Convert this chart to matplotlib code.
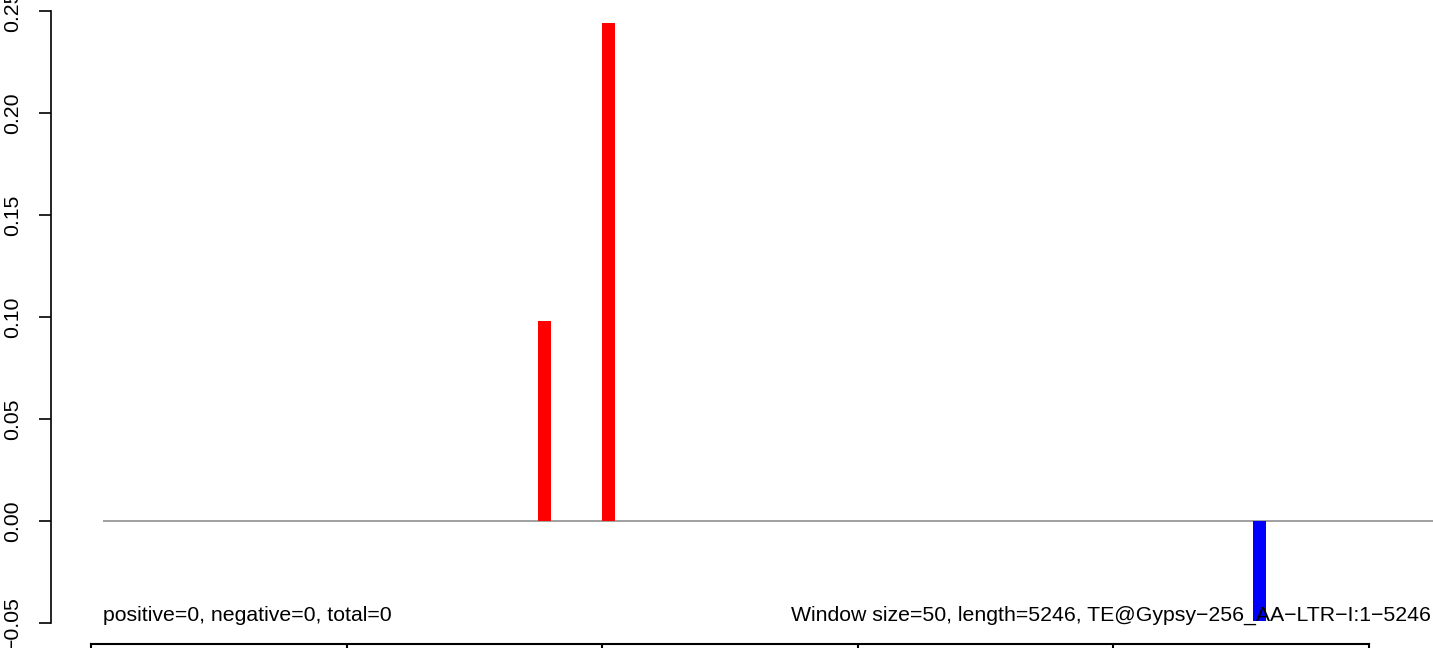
import matplotlib.pyplot as plt

plt.rcParams['font.family'] = ['Liberation Sans', 'DejaVu Sans']

# window positions (bp, window centre) and signal values
window_size = 50
seq_length = 5246
win_centers = [1725, 1975, 4517]
win_values = [0.098, 0.2441, -0.049]
bar_colors = ['#ff0000' if v > 0 else '#0000ff' for v in win_values]

y_ticks = [-0.05, 0.00, 0.05, 0.10, 0.15, 0.20, 0.25]
y_ticklabels = ['\u22120.05', '0.00', '0.05', '0.10', '0.15', '0.20', '0.25']

left_note = 'positive=0, negative=0, total=0'
right_note = ('Window size=50, length=5246, TE@Gypsy\u2212256_AA\u2212LTR\u2212I:1\u22125246')

# bottom panel segments (top edge of the next track, cropped)
n_segments = 5

W, H = 1433, 648
fig = plt.figure(figsize=(W / 100, H / 100), dpi=100)

ax = fig.add_axes([51 / W, 1 - 623 / H, 1 - 51 / W, 612 / H])
ax.set_xlim(-203, 5195)
ax.set_ylim(-0.05, 0.25)

ax.hlines(0, 0, seq_length, color='#999999', lw=1.3, zorder=1)
ax.bar(win_centers, win_values, width=window_size, color=bar_colors,
       linewidth=0, zorder=2)

for s in ['top', 'right', 'bottom']:
    ax.spines[s].set_visible(False)
ax.spines['left'].set_bounds(-0.05, 0.25)
ax.spines['left'].set_linewidth(1.2)
ax.set_xticks([])
ax.set_yticks(y_ticks)
ax.set_yticklabels(y_ticklabels, rotation=90, va='center', fontsize=15.3)
ax.tick_params(axis='y', length=9, width=1.2, pad=12)
for lab in ax.get_yticklabels():
    lab.set_clip_on(False)

ax.text(0, -0.049, left_note, ha='left', va='baseline', fontsize=15.3)
ax.text(5187, -0.049, right_note, ha='right', va='baseline', fontsize=15.3)

ax2 = fig.add_axes([91 / W, -0.05, (1369 - 91) / W, 0.05 + 4 / H])
ax2.set_xlim(0, n_segments)
ax2.set_ylim(0, 1)
for i in range(1, n_segments):
    ax2.axvline(i, color='black', lw=1.5)
for s in ax2.spines.values():
    s.set_linewidth(1.5)
ax2.set_xticks([])
ax2.set_yticks([])

fig.savefig('out.png', dpi=100)
